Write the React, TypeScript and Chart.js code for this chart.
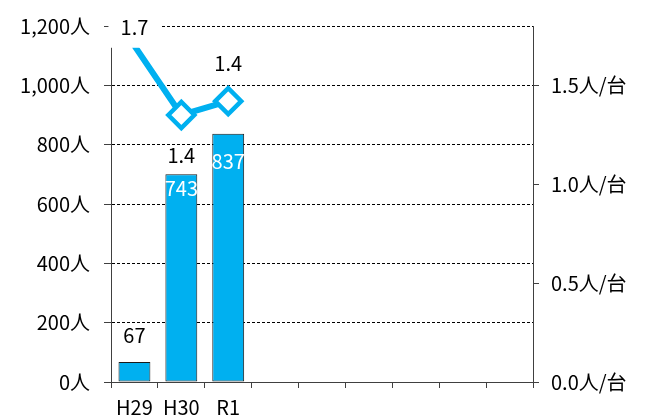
import React, { useEffect, useRef } from "react";
import { Chart, registerables } from "chart.js";

Chart.register(...registerables);

const categories = ["H29", "H30", "R1", "", "", "", "", "", ""];
const barValues = [67, 700, 837];
const barLabels = ["67", "743", "837"];
const ratioValues = [1.7, 1.35, 1.42];
const leftTicks = [0, 200, 400, 600, 800, 1000, 1200];
const rightTicks = [0, 0.5, 1.0, 1.5];

const FONT = '"Noto Sans CJK JP", "Noto Sans", sans-serif';
const BLUE = "#00B0F0";
const AXIS = "#404040";

// label placement (style, not data)
const barLabelOffsets = [-27, 14, 28];
const barLabelColors = ["#000", "#fff", "#fff"];
const lineLabelOffsets = [-18, 40, -38];
const lineLabelBoxed = [true, false, false];

const labelPlugin = {
  id: "valueLabels",
  afterDatasetsDraw(chart: any) {
    const ctx = chart.ctx;
    ctx.save();
    ctx.font = `20px ${FONT}`;
    ctx.textAlign = "center";
    ctx.textBaseline = "middle";
    const barMeta = chart.getDatasetMeta(0);
    barMeta.data.forEach((el: any, i: number) => {
      if (barLabels[i] === undefined) return;
      ctx.fillStyle = barLabelColors[i];
      ctx.fillText(barLabels[i], el.x, el.y + barLabelOffsets[i]);
    });
    const lineMeta = chart.getDatasetMeta(1);
    lineMeta.data.forEach((el: any, i: number) => {
      if (ratioValues[i] === undefined) return;
      const y = el.y + lineLabelOffsets[i];
      if (lineLabelBoxed[i]) {
        ctx.fillStyle = "#fff";
        ctx.fillRect(el.x - 26, y - 20, 53, 40);
      }
      ctx.fillStyle = "#000";
      ctx.fillText(ratioValues[i].toFixed(1), el.x, y);
    });
    ctx.restore();
  },
};

export default function App() {
  const ref = useRef<HTMLCanvasElement>(null);
  useEffect(() => {
    if (!ref.current) return;
    const chart = new Chart(ref.current, {
      type: "bar",
      data: {
        labels: categories,
        datasets: [
          {
            type: "bar",
            data: barValues,
            backgroundColor: BLUE,
            borderColor: "#1a1a1a",
            borderWidth: 1,
            borderSkipped: false,
            barPercentage: 1,
            categoryPercentage: 0.68,
            yAxisID: "y",
            order: 1,
          } as any,
          {
            type: "line",
            data: ratioValues,
            borderColor: BLUE,
            borderWidth: 6,
            pointStyle: "rectRot",
            pointRadius: [0, 13, 13],
            pointBackgroundColor: "#fff",
            pointBorderColor: BLUE,
            pointBorderWidth: 4.5,
            tension: 0,
            yAxisID: "y1",
            order: 0,
          } as any,
        ],
      },
      options: {
        responsive: false,
        animation: false,
        layout: { padding: { top: 24, left: 0, right: 0, bottom: 0 } },
        plugins: { legend: { display: false }, tooltip: { enabled: false } },
        scales: {
          x: {
            offset: true,
            grid: {
              offset: true,
              drawOnChartArea: false,
              drawTicks: true,
              tickLength: 6,
              tickColor: AXIS,
              tickWidth: 1,
              tickBorderDash: [],
            },
            border: { display: true, color: AXIS, width: 1 },
            ticks: {
              color: "#000",
              font: { family: FONT, size: 20 },
              padding: 7,
              maxRotation: 0,
              autoSkip: false,
            },
            afterFit(scale: any) {
              scale.height = 34;
            },
          },
          y: {
            position: "left",
            min: 0,
            max: 1200,
            afterBuildTicks(scale: any) {
              scale.ticks = leftTicks.map((v) => ({ value: v }));
            },
            grid: {
              color: (c: any) => (c.tick && c.tick.value === 0 ? "rgba(0,0,0,0)" : "#000"),
              lineWidth: 1,
              drawTicks: true,
              tickLength: 7,
              tickColor: AXIS,
              tickWidth: 1,
              tickBorderDash: [],
            },
            border: { display: true, color: AXIS, width: 1, dash: [3, 2] },
            ticks: {
              color: "#000",
              font: { family: FONT, size: 20 },
              padding: 14,
              callback: (v: any) => Number(v).toLocaleString("en-US") + "人",
            },
            afterFit(scale: any) {
              scale.width = 111;
            },
          },
          y1: {
            position: "right",
            min: 0,
            max: 1.8,
            afterBuildTicks(scale: any) {
              scale.ticks = rightTicks.map((v) => ({ value: v }));
            },
            grid: {
              drawOnChartArea: false,
              drawTicks: true,
              tickLength: 6,
              tickColor: AXIS,
              tickWidth: 1,
              tickBorderDash: [],
            },
            border: { display: true, color: AXIS, width: 1 },
            ticks: {
              color: "#000",
              font: { family: FONT, size: 20 },
              padding: 12,
              callback: (v: any) => Number(v).toFixed(1) + "人/台",
            },
            afterFit(scale: any) {
              scale.width = 114;
            },
          },
        },
      } as any,
      plugins: [labelPlugin],
    });
    return () => chart.destroy();
  }, []);
  return (
    <canvas
      ref={ref}
      width={647}
      height={416}
      style={{ position: "absolute", left: 0, top: 0, display: "block" }}
    />
  );
}
